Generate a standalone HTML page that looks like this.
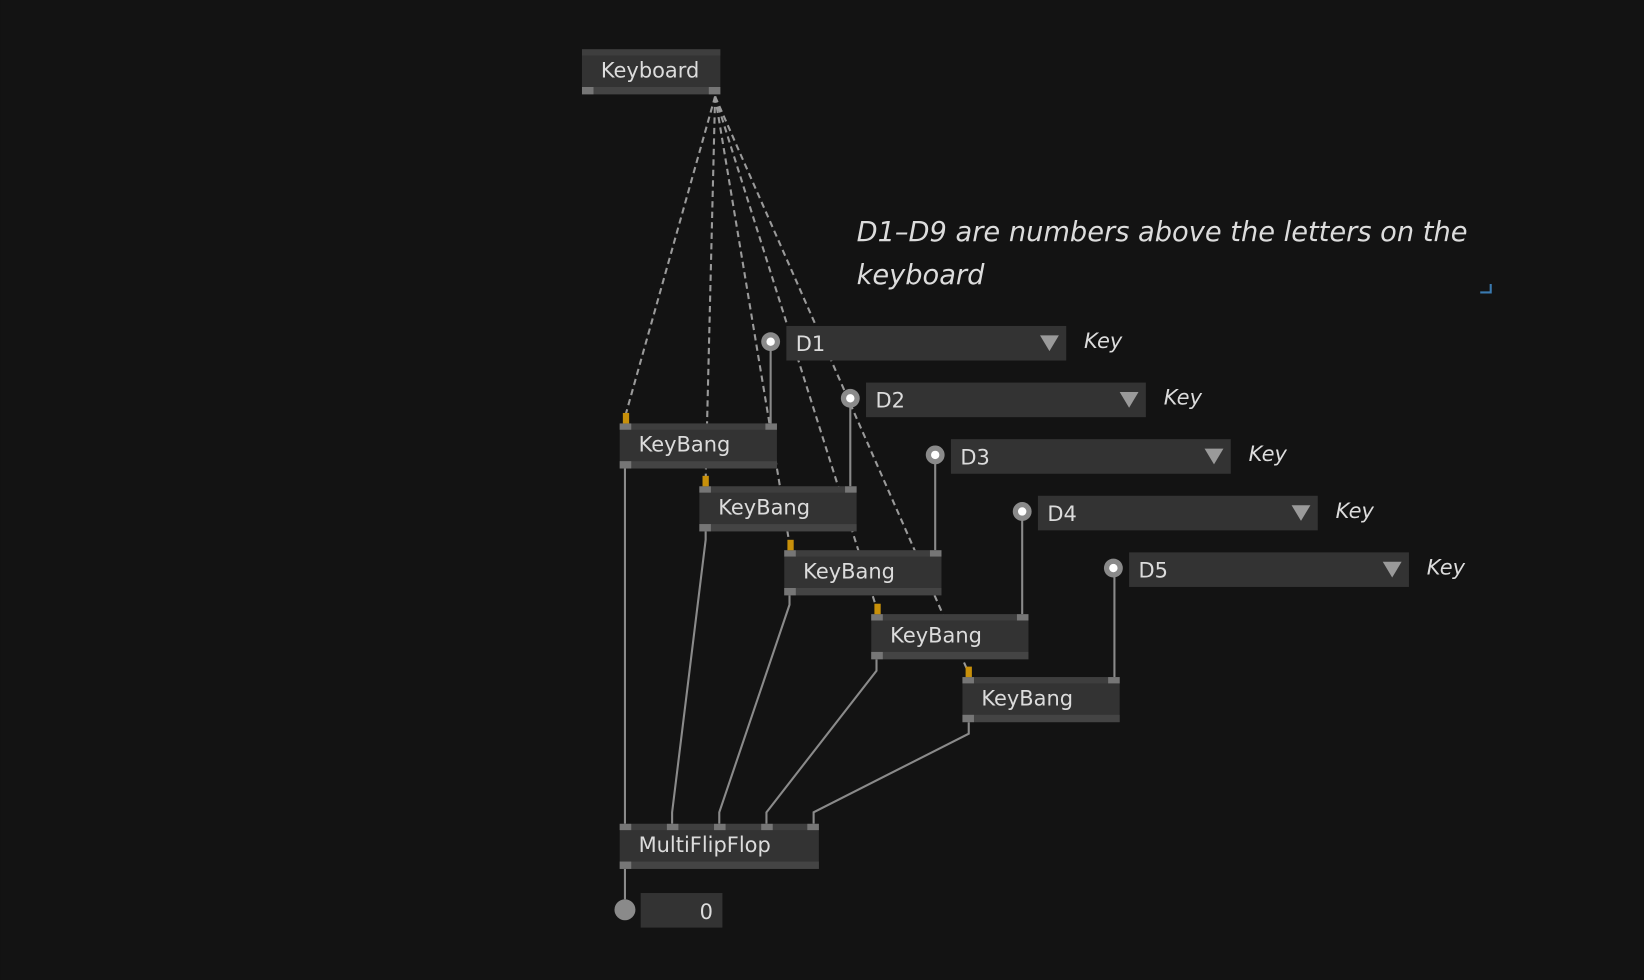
<!DOCTYPE html>
<html><head><meta charset="utf-8"><style>
html,body{margin:0;padding:0;background:#131313;overflow:hidden}
svg{display:block}
text{font-family:"DejaVu Sans","Liberation Sans",sans-serif;fill:#dcdcdc}
</style></head><body>
<svg width="1644" height="980" viewBox="0 0 1568 935" xmlns="http://www.w3.org/2000/svg">
<rect width="1568" height="935" fill="#131313"/>
<g id="links"></g>
<g id="nodes"></g>
<text x="817" y="230" font-size="26" font-style="italic">D1–D9 are numbers above the letters on the</text>
<text x="817" y="271" font-size="26" font-style="italic">keyboard</text>
<path d="M1412 279 H1422 V271" stroke="#3a7ab0" stroke-width="2" fill="none"/>
</svg>
<script>
const NS="http://www.w3.org/2000/svg";
const svg=document.querySelector('svg');
const links=document.getElementById('links');
const nodes=document.getElementById('nodes');
function mk(tag,attrs,parent){const e=document.createElementNS(NS,tag);for(const k in attrs)e.setAttribute(k,attrs[k]);(parent||nodes).appendChild(e);return e;}
const kbTargets=[[596,398],[673,458],[753,519],[836,580],[923,640]];
kbTargets.forEach(t=>{const l=mk('line',{x1:682,y1:92,x2:t[0],y2:t[1],stroke:'#9a9a9a','stroke-width':2,'stroke-dasharray':'6 4'},links);

});
const solid=["M735 334V404","M811 388V464","M892 442V525","M975 496V586","M1063 550V646",
"M596 447V786","M673 507V515L641 775V786","M753 568V577L686 775V786","M836 629V640L731 775V786","M924 689V700L776 775V786","M596 828V858"];
solid.forEach(d=>{const p=mk('path',{d:d,stroke:'#8a8a8a','stroke-width':2,fill:'none'},links);

});
function node(name,label,x,y,w,ins,outs,orange){
 const g=mk('g',{});
 
 
 mk('rect',{x:x,y:y,width:w,height:43,fill:'#333'},g);
 mk('rect',{x:x,y:y,width:w,height:6,fill:'#3e3e3e'},g);
 mk('rect',{x:x,y:y+36,width:w,height:7,fill:'#444'},g);
 ins.forEach(px=>mk('rect',{x:px,y:y,width:11,height:6,fill:'#767676'},g));
 outs.forEach(px=>mk('rect',{x:px,y:y+36,width:11,height:7,fill:'#767676'},g));
 if(orange) mk('rect',{x:x+3,y:y-10,width:6,height:10,fill:'#c8900a'},g);
 const t=mk('text',{x:x+18,y:y+27,'font-size':20},g);t.textContent=label;
}
node('keyboard-node','Keyboard',555,47,132,[],[555,676],false);
const kb=[[591,404],[667,464],[748,525],[831,586],[918,646]];
kb.forEach((k,i)=>node('keybang-node-'+(i+1),'KeyBang',k[0],k[1],150,[k[0],k[0]+139],[k[0]],true));
node('multiflipflop-node','MultiFlipFlop',591,786,190,[591,636,681,726,770],[591],false);
const nb=mk('g',{});
mk('circle',{cx:596,cy:868,r:10,fill:'#8a8a8a'},nb);
mk('rect',{x:611,y:852,width:78,height:33,fill:'#333'},nb);
const nt=mk('text',{x:680,y:877,'font-size':20,'text-anchor':'end'},nb);nt.textContent='0';
const dd=[['D1',750,311],['D2',826,365],['D3',907,419],['D4',990,473],['D5',1077,527]];
dd.forEach(d=>{const g=mk('g',{});
 
 
 const x=d[1],y=d[2];
 mk('circle',{cx:x-15,cy:y+15,r:9,fill:'#8a8a8a'},g);
 mk('circle',{cx:x-15,cy:y+15,r:4,fill:'#fff'},g);
 mk('rect',{x:x,y:y,width:267,height:33,fill:'#333'},g);
 const t=mk('text',{x:x+9,y:y+24,'font-size':20},g);t.textContent=d[0];
 mk('path',{d:`M${x+242} ${y+9}h18l-9 15z`,fill:'#9a9a9a'},g);
 const k=mk('text',{x:x+284,y:y+21,'font-size':20,'font-style':'italic'},g);k.textContent='Key';
});
</script>
</body></html>
